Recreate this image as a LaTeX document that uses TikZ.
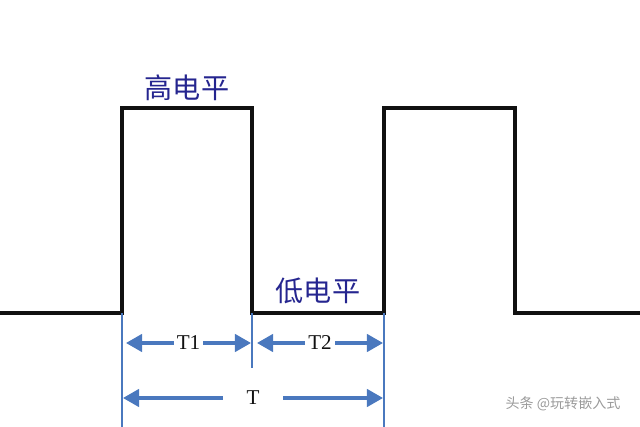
\documentclass[tikz,border=0pt]{standalone}
\usepackage{fontspec}
\setmainfont{Liberation Serif}
\newfontfamily\cjk{Noto Sans CJK SC}
\usetikzlibrary{arrows.meta,positioning,calc}
\definecolor{Ink}{HTML}{111111}
\definecolor{Blue}{HTML}{4A78BE}
\definecolor{Navy}{HTML}{25258F}
\definecolor{Muted}{HTML}{9A9A9A}
\tikzset{
  wave/.style={draw=Ink, line width=2.5pt, line join=miter},
  guide/.style={draw=Blue, line width=1.5pt},
  dim/.style={
    {Triangle[length=11.5pt,width=12.5pt]}-{Triangle[length=11.5pt,width=12.5pt]},
    line width=2.2pt, draw=Blue
  },
  dimlabel/.style={fill=white, inner sep=2pt, font=\fontsize{15}{15}\selectfont, text=Ink},
  level/.style={font=\cjk\fontsize{20}{20}\selectfont, text=Navy},
  note/.style={font=\cjk\fontsize{10}{10}\selectfont, text=Muted}
}

\begin{document}
\begin{tikzpicture}[x=0.025cm, y=-0.025cm]
  \useasboundingbox (0,0) rectangle (640,427);
  % waveform corners
  \coordinate (start) at (0,313);
  \coordinate (riseA) at (122,313);
  \coordinate (fallA) at (252,313);
  \coordinate (riseB) at (384,313);
  \coordinate (fallB) at (515,313);
  \coordinate (stop) at (640,313);
  \draw[wave] (start) -- (riseA) -- (122,108) -- (252,108) -- (fallA)
    -- (riseB) -- (384,108) -- (515,108) -- (fallB) -- (stop);
  % guide lines
  \coordinate (guideA) at (122,427);
  \coordinate (guideB) at (252,368);
  \coordinate (guideC) at (384,427);
  \draw[guide] (riseA) -- (guideA);
  \draw[guide] (fallA) -- (guideB);
  \draw[guide] (riseB) -- (guideC);
  % dimensions
  \coordinate (t1L) at (126,343);
  \coordinate (t1R) at (251,343);
  \coordinate (t2L) at (257,343);
  \coordinate (t2R) at (383,343);
  \coordinate (tL) at (123,398);
  \coordinate (tR) at (383,398);
  \draw[dim] (t1L) -- node[dimlabel] (labelT1) {T1} (t1R);
  \draw[dim] (t2L) -- node[dimlabel] (labelT2) {T2} (t2R);
  \draw[dim] (tL) -- node[dimlabel, minimum width=42pt] (labelT) {T} (tR);
  % levels
  \node[level] (high) at (187,88) {高电平};
  \node[level] (low) at (318,291) {低电平};
  \node[note] (mark) at (563,404) {头条 @玩转嵌入式};
\end{tikzpicture}
\end{document}
